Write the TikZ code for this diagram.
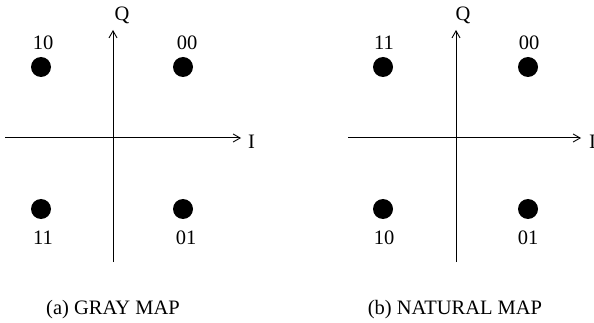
\documentclass[tikz,border=0pt]{standalone}
\usepackage{fontspec}
\setmainfont{Liberation Serif}
\usetikzlibrary{arrows.meta}
\begin{document}
\begin{tikzpicture}[x=1pt,y=-1pt,
  axis/.style={line width=1pt,-{Straight Barb[length=7pt,width=8pt,line width=0.9pt]}},
  pt/.style={circle,fill=black,inner sep=0pt,minimum size=20pt},
  lab/.style={font=\fontsize{20.5}{20.5}\selectfont,inner sep=0pt},
  captxt/.style={font=\fontsize{20.5}{20.5}\selectfont,inner sep=0pt}]
\useasboundingbox (0,0) rectangle (594,323);
% (a) Gray map
\coordinate (aL) at (5,138);
\coordinate (aR) at (241,138);
\coordinate (aB) at (113,262);
\coordinate (aT) at (113,30);
\draw[axis] (aL) -- (aR);
\draw[axis] (aB) -- (aT);
\node[lab,anchor=west] (aI) at (248,142) {I};
\node[lab] (aQ) at (122,15) {Q};
\node[pt] (a10) at (41,67) {};
\node[pt] (a00) at (183,67) {};
\node[pt] (a11) at (41,209) {};
\node[pt] (a01) at (183,209) {};
\node[lab] (l10) at (43,43) {10};
\node[lab] (l00) at (187,43) {00};
\node[lab] (l11) at (43,238) {11};
\node[lab] (l01) at (186,238) {01};
\node[captxt] (capa) at (113,310) {(a) GRAY MAP};
% (b) Natural map
\coordinate (bL) at (348,138);
\coordinate (bR) at (581,138);
\coordinate (bB) at (456,262);
\coordinate (bT) at (456,30);
\draw[axis] (bL) -- (bR);
\draw[axis] (bB) -- (bT);
\node[lab,anchor=west] (bI) at (589,142) {I};
\node[lab] (bQ) at (463,15) {Q};
\node[pt] (b11) at (383,67) {};
\node[pt] (b00) at (528,67) {};
\node[pt] (b10) at (383,209) {};
\node[pt] (b01) at (528,209) {};
\node[lab] (m11) at (384,43) {11};
\node[lab] (m00) at (529,43) {00};
\node[lab] (m10) at (384,238) {10};
\node[lab] (m01) at (528,238) {01};
\node[captxt] (capb) at (455,310) {(b) NATURAL MAP};
\end{tikzpicture}
\end{document}
